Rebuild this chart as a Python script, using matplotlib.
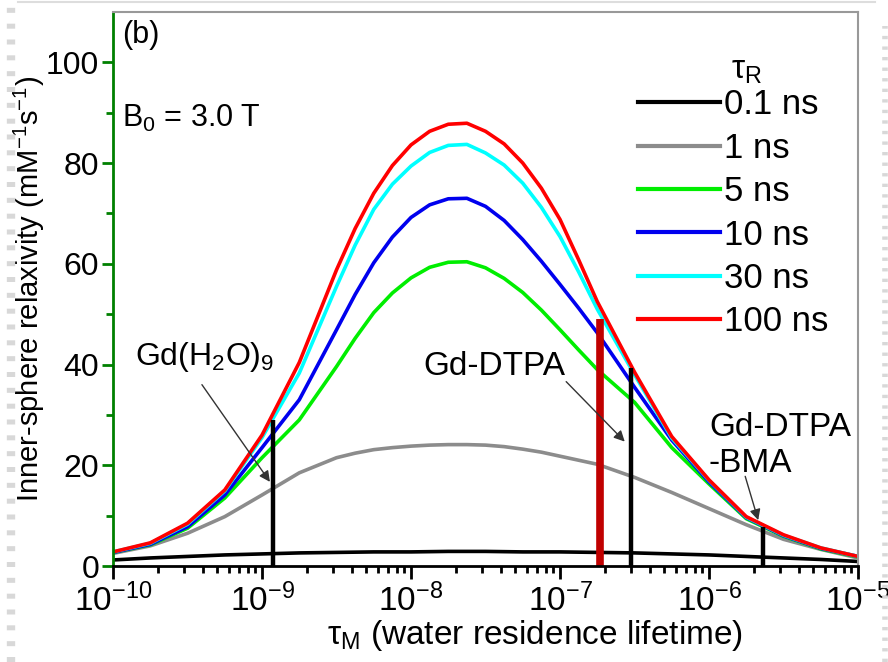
import numpy as np
import matplotlib.pyplot as plt
from matplotlib.lines import Line2D

plt.rcParams['font.family'] = ['Liberation Sans', 'DejaVu Sans']
plt.rcParams['mathtext.fontset'] = 'custom'
plt.rcParams['mathtext.rm'] = 'Liberation Sans'
plt.rcParams['mathtext.it'] = 'Liberation Sans:italic'

# log10 of tau_M (s)
log_tau_m = [-10, -9.75, -9.5, -9.25, -9, -8.75, -8.5, -8.375, -8.25, -8.125,
             -8, -7.875, -7.75, -7.625, -7.5, -7.375, -7.25, -7.125, -7, -6.875,
             -6.75, -6.5, -6.25, -6, -5.75, -5.5, -5.25, -5]

# inner-sphere relaxivity, one list per tau_R
r_01ns = [1.2, 1.6, 1.9, 2.2, 2.4, 2.6, 2.7, 2.75, 2.8, 2.8,
          2.8, 2.85, 2.9, 2.9, 2.9, 2.85, 2.8, 2.8, 2.8, 2.75,
          2.7, 2.6, 2.4, 2.2, 1.9, 1.6, 1.3, 0.9]
r_1ns = [2.5, 4.0, 6.5, 9.8, 14.1, 18.5, 21.5, 22.4, 23.1, 23.5,
         23.8, 24.0, 24.1, 24.1, 24.0, 23.7, 23.2, 22.6, 21.8, 21.0,
         20.2, 17.6, 14.6, 11.4, 8.2, 5.3, 3.3, 1.6]
r_5ns = [2.7, 4.2, 7.5, 13.5, 21.5, 29.0, 39.6, 45.2, 50.3, 54.2,
         57.2, 59.3, 60.3, 60.4, 59.2, 57.1, 54.3, 50.8, 46.9, 42.9,
         39.0, 32.5, 23.5, 16.3, 9.4, 5.9, 3.4, 1.8]
r_10ns = [2.7, 4.3, 7.8, 14.1, 23.5, 33.0, 46.9, 53.9, 60.2, 65.3,
          69.2, 71.7, 72.9, 73.0, 71.4, 68.6, 64.8, 60.5, 55.9, 51.2,
          46.3, 35.5, 25.0, 16.7, 9.6, 6.0, 3.5, 1.9]
r_30ns = [2.8, 4.5, 8.3, 14.9, 25.5, 38.3, 55.5, 63.7, 70.8, 75.8,
          79.4, 82.1, 83.5, 83.7, 82.0, 79.6, 76.0, 71.2, 65.4, 58.4,
          51.0, 38.0, 25.4, 17.0, 9.7, 6.1, 3.6, 1.9]
r_100ns = [2.8, 4.6, 8.5, 15.1, 26.0, 40.4, 58.8, 67.0, 74.0, 79.5,
           83.6, 86.3, 87.7, 87.9, 86.3, 83.8, 80.0, 75.0, 68.8, 60.8,
           52.5, 38.5, 25.7, 17.1, 9.8, 6.2, 3.6, 1.9]

labels = ['0.1 ns', '1 ns', '5 ns', '10 ns', '30 ns', '100 ns']
colors = ['#000000', '#8c8c8c', '#00ee00', '#0000ee', '#00ffff', '#ff0000']

# complexes: tau_M and height of the marker line
complex_tau = [1.19e-9, 3.0e-7, 2.3e-6]
complex_height = [29.0, 39.4, 7.8]
red_bar_tau = 1.85e-7
red_bar_height = 49.0

tau_m = 10.0 ** np.array(log_tau_m)
series = [r_01ns, r_1ns, r_5ns, r_10ns, r_30ns, r_100ns]

fig = plt.figure(figsize=(8.88, 6.62), dpi=100)
ax = fig.add_axes([0.1273, 0.145, 0.8389, 0.837])

for vals, lab, col in zip(series, labels, colors):
    ax.plot(tau_m, vals, color=col, lw=2.6, label=lab)

for t, h in zip(complex_tau, complex_height):
    ax.plot([t, t], [0, h], color='black', lw=3.2, solid_capstyle='butt')
ax.plot([red_bar_tau, red_bar_tau], [0, red_bar_height], color='#c00000', lw=5.5,
        solid_capstyle='butt')

# labels of the complexes and their arrows
arrow = dict(arrowstyle='-|>', color='#333333', lw=1.0, mutation_scale=16,
             shrinkA=0, shrinkB=0)
ax.text(4.1e-10, 41.5, 'Gd(H$_\\mathregular{2}$O)$_\\mathregular{9}$', fontsize=23,
        ha='center', va='center')
ax.annotate('', xy=(1.13e-9, 16.7), xytext=(3.95e-10, 36.0), arrowprops=arrow)
ax.text(3.6e-8, 39.6, 'Gd-DTPA', fontsize=24, ha='center', va='center')
ax.annotate('', xy=(2.72e-7, 24.7), xytext=(1.1e-7, 36.6), arrowprops=arrow)
ax.text(1.0e-6, 23.9, 'Gd-DTPA\n-BMA', fontsize=24, ha='left', va='center',
        linespacing=1.2)
ax.annotate('', xy=(2.14e-6, 9.1), xytext=(1.75e-6, 17.8), arrowprops=arrow)

ax.text(0.012, 0.985, '(b)', transform=ax.transAxes, fontsize=22, va='top')
ax.text(0.012, 0.835, 'B$_\\mathregular{0}$ = 3.0 T', transform=ax.transAxes,
        fontsize=22, va='top')

ax.set_xscale('log')
ax.set_xlim(1e-10, 1e-5)
ax.set_ylim(0, 110)
ax.set_yticks([0, 20, 40, 60, 80, 100])
ax.set_yticks([10, 30, 50, 70, 90], minor=True)

ax.spines['left'].set_color('#008000')
ax.spines['left'].set_linewidth(2)
ax.spines['bottom'].set_linewidth(2)
ax.spines['top'].set_color('#999999')
ax.spines['right'].set_color('#999999')
ax.spines['top'].set_linewidth(1.5)
ax.spines['right'].set_linewidth(1.5)

ax.tick_params(axis='y', which='both', direction='out', color='#008000', width=2,
               labelsize=23, pad=2)
ax.tick_params(axis='y', which='major', length=8)
ax.tick_params(axis='y', which='minor', length=5)
ax.tick_params(axis='x', which='both', direction='out', width=2, labelsize=24, pad=4)
ax.tick_params(axis='x', which='major', length=9)
ax.tick_params(axis='x', which='minor', length=5)

ax.set_xlabel('τ$_\\mathregular{M}$ (water residence lifetime)', fontsize=24,
              va='top')
ax.xaxis.set_label_coords(0.566, -0.093)
ax.set_ylabel('Inner-sphere relaxivity (mM$^\\mathregular{-1}$s$^\\mathregular{-1}$)',
              fontsize=21)
ax.yaxis.set_label_coords(-0.088, 0.5)

# legend, with its title as a separate text
ax.text(0.85, 0.895, 'τ$_\\mathregular{R}$', transform=ax.transAxes, fontsize=24,
        ha='center', va='center')
leg = ax.legend(loc='upper left', bbox_to_anchor=(0.705, 0.862), frameon=False,
                fontsize=25, handlelength=2.36, handletextpad=0.12,
                labelspacing=0.3, borderpad=0, borderaxespad=0)
for line in leg.get_lines():
    line.set_linewidth(3)

# faint slide frame around the picture
fig.add_artist(Line2D([0.02, 0.985], [0.997, 0.997], color='#dddddd', lw=1.5))
fig.add_artist(Line2D([0.012, 0.012], [0.0, 0.99], color='#d8d8d8', lw=6,
                      dashes=(0.6, 1.3)))
fig.add_artist(Line2D([0.997, 0.997], [0.0, 0.96], color='#d8d8d8', lw=4,
                      dashes=(0.6, 1.3)))

fig.savefig('out.png', dpi=100)
